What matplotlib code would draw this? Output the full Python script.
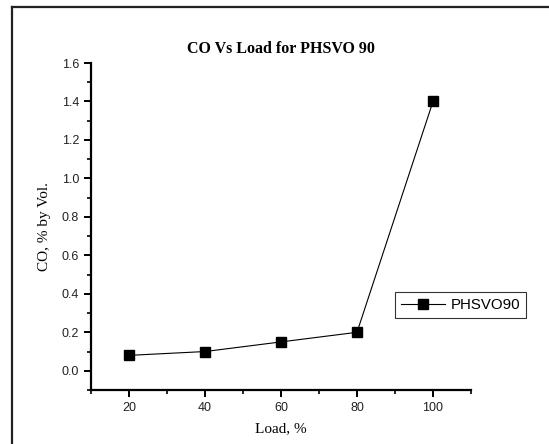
import matplotlib.pyplot as plt
from matplotlib.lines import Line2D
from matplotlib.ticker import MultipleLocator

# дані
load = [20, 40, 60, 80, 100]
co = [0.08, 0.10, 0.15, 0.20, 1.40]
series_name = 'PHSVO90'

W, H = 549, 444
fig = plt.figure(figsize=(W / 100, H / 100), dpi=100)

# рамка навколо малюнка (лише зверху та зліва видно)
fig.add_artist(Line2D([12 / W, 1], [1 - 7 / H, 1 - 7 / H], color='#222222', lw=1.6, transform=fig.transFigure))
fig.add_artist(Line2D([12 / W, 12 / W], [0, 1 - 7 / H], color='#222222', lw=1.6, transform=fig.transFigure))

ax = fig.add_axes([91 / W, 1 - 390 / H, (471 - 91) / W, (390 - 63) / H])
ax.plot(load, co, color='black', lw=0.8, marker='s', markersize=6.5, label=series_name)

ax.set_xlim(10, 110)
ax.set_ylim(-0.1, 1.6)
ax.set_xticks(load)
ax.xaxis.set_minor_locator(MultipleLocator(10))
ax.yaxis.set_minor_locator(MultipleLocator(0.1))
ax.set_yticks([0.0, 0.2, 0.4, 0.6, 0.8, 1.0, 1.2, 1.4, 1.6])

for s in ['top', 'right']:
    ax.spines[s].set_visible(False)
for s in ['left', 'bottom']:
    ax.spines[s].set_linewidth(1.6)

ax.tick_params(which='major', direction='out', length=5, width=1.4, labelsize=9, labelcolor='#222222')
ax.tick_params(which='minor', direction='out', length=3, width=1.2)
for lab in ax.get_xticklabels() + ax.get_yticklabels():
    lab.set_family('Liberation Sans')

ax.set_xlabel('Load, %', family='Liberation Serif', fontsize=11, labelpad=6)
ax.set_ylabel('CO, % by Vol.', family='Liberation Serif', fontsize=11, labelpad=8)
ax.set_title('CO Vs Load for PHSVO 90', family='Liberation Serif', fontweight='bold', fontsize=11.5, pad=7)

leg = ax.legend(loc='center left', bbox_to_anchor=(395 / W, 1 - 305 / H), bbox_transform=fig.transFigure,
                borderaxespad=0, frameon=True, fancybox=False, edgecolor='black', borderpad=0.4,
                prop={'family': 'Liberation Sans', 'size': 10.8}, handlelength=2.9, handletextpad=0.4)
leg.get_frame().set_linewidth(0.8)

fig.savefig('out.png', dpi=100)
